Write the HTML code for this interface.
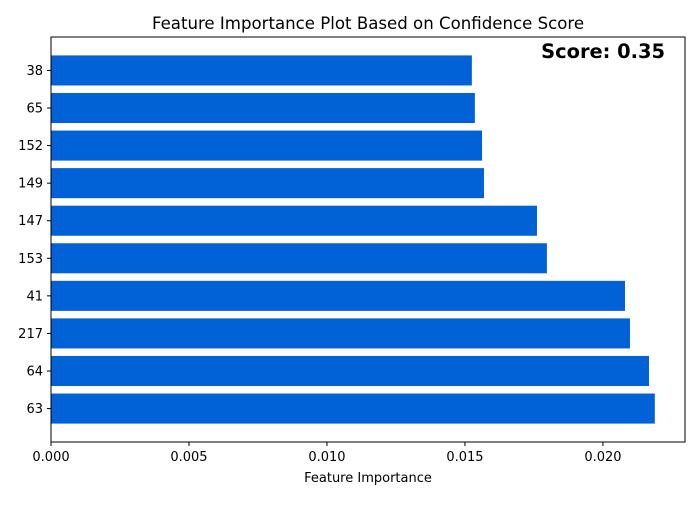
<!DOCTYPE html>
<html><head><meta charset="utf-8"><style>
body{margin:0;background:#fff;}
svg text{font-family:"DejaVu Sans","Liberation Sans",sans-serif;}
</style></head><body>
<svg id="chart" width="700" height="500" xmlns="http://www.w3.org/2000/svg">
<rect width="700" height="500" fill="#fff"/>
<text x="368" y="29" font-size="16.6" text-anchor="middle" fill="#000">Feature Importance Plot Based on Confidence Score</text>
<g id="bars"></g>
<g id="xticks"></g>
<g id="yticks"></g>
<rect x="51" y="37" width="634" height="405" fill="none" stroke="#000" stroke-width="1"/>
<text x="368" y="482" font-size="13" text-anchor="middle" fill="#000">Feature Importance</text>
<text x="665" y="58" font-size="19.4" font-weight="bold" text-anchor="end" fill="#000">Score: 0.35</text>
</svg>
<script>
const features = ["63","64","217","41","153","147","149","152","65","38"];
const importances = [0.02188,0.02167,0.02098,0.0208,0.01797,0.01761,0.01569,0.01562,0.01536,0.01525];
const xTickValues = [0,0.005,0.010,0.015,0.020];
const xTickLabels = ["0.000","0.005","0.010","0.015","0.020"];

const NS="http://www.w3.org/2000/svg";
const pLeft=51,pRight=685,pTop=37,pBottom=442;
const xMax=Math.max(...importances)*1.05;
const xs=v=>pLeft+v/xMax*(pRight-pLeft);
const yMin=-0.89,yMax=features.length-1+0.89;
const ys=i=>pBottom-(i-yMin)/(yMax-yMin)*(pBottom-pTop);
const unit=(pBottom-pTop)/(yMax-yMin);
const barsG=document.getElementById('bars');
const yG=document.getElementById('yticks');
const xG=document.getElementById('xticks');
features.forEach((f,i)=>{
  const r=document.createElementNS(NS,'rect');
  r.setAttribute('x',xs(0));
  r.setAttribute('y',ys(i)-0.4*unit);
  r.setAttribute('width',xs(importances[i])-xs(0));
  r.setAttribute('height',0.8*unit);
  r.setAttribute('fill','#0062d6');
  
  
  barsG.appendChild(r);
  const t=document.createElementNS(NS,'line');
  t.setAttribute('x1',pLeft-4);t.setAttribute('x2',pLeft);
  t.setAttribute('y1',ys(i));t.setAttribute('y2',ys(i));
  t.setAttribute('stroke','#000');
  yG.appendChild(t);
  const l=document.createElementNS(NS,'text');
  l.setAttribute('x',pLeft-8);l.setAttribute('y',ys(i)+4.5);
  l.setAttribute('font-size','13');l.setAttribute('text-anchor','end');
  l.textContent=f;
  
  
  yG.appendChild(l);
});
xTickValues.forEach((v,i)=>{
  const t=document.createElementNS(NS,'line');
  t.setAttribute('x1',xs(v));t.setAttribute('x2',xs(v));
  t.setAttribute('y1',pBottom);t.setAttribute('y2',pBottom+4);
  t.setAttribute('stroke','#000');
  xG.appendChild(t);
  const l=document.createElementNS(NS,'text');
  l.setAttribute('x',xs(v));l.setAttribute('y',pBottom+19);
  l.setAttribute('font-size','13');l.setAttribute('text-anchor','middle');
  l.textContent=xTickLabels[i];
  
  
  xG.appendChild(l);
});
</script>
</body></html>
